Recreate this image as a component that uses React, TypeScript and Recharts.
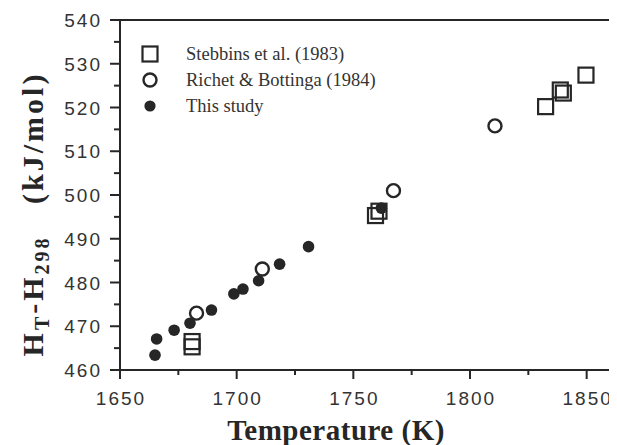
import { ReferenceArea, Scatter, ScatterChart, XAxis, YAxis } from "recharts";

// Stebbins et al. (1983)
const stebbinsT = [1680.9, 1680.9, 1759.5, 1761, 1832.4, 1838.7, 1840, 1849.7];
const stebbinsH = [465.3, 466.5, 495.3, 496.3, 520.2, 524, 523.3, 527.4];
// Richet & Bottinga (1984)
const richetT = [1682.8, 1711, 1767.2, 1810.7];
const richetH = [473.0, 483.1, 501, 515.8];
// This study
const studyT = [1665, 1665.7, 1673.2, 1680, 1689.2, 1698.8, 1702.7, 1709.4, 1718.4, 1730.8, 1762];
const studyH = [463.4, 467.1, 469.1, 470.7, 473.7, 477.4, 478.5, 480.4, 484.2, 488.2, 497.0];

const xTicks = [1650, 1675, 1700, 1725, 1750, 1775, 1800, 1825, 1850];
const xLabels = [1650, 1700, 1750, 1800, 1850];
const yTicks = [460, 465, 470, 475, 480, 485, 490, 495, 500, 505, 510, 515, 520, 525, 530, 535, 540];
const yLabels = [460, 470, 480, 490, 500, 510, 520, 530, 540];

const legendNames = ["Stebbins et al. (1983)", "Richet & Bottinga (1984)", "This study"];

const INK = "#262626";
const SERIF = "'Liberation Serif', 'Times New Roman', serif";
const SANS = "'Liberation Sans', Arial, sans-serif";

const zip = (xs: number[], ys: number[]) => xs.map((x, i) => ({ x, y: ys[i] }));
const stebbins = zip(stebbinsT, stebbinsH);
const richet = zip(richetT, richetH);
const study = zip(studyT, studyH);

const SquareMark = (p: any) => (
  <rect x={p.cx - 7.5} y={p.cy - 7.5} width={15} height={15} fill="none" stroke={INK} strokeWidth={2.2} />
);
const CircleMark = (p: any) => (
  <circle cx={p.cx} cy={p.cy} r={6.5} fill="#fff" stroke={INK} strokeWidth={2.4} />
);
const DotMark = (p: any) => <circle cx={p.cx} cy={p.cy} r={5.8} fill={INK} />;

const XTick = (props: any) => {
  const { x, y, payload } = props;
  const major = xLabels.includes(payload.value);
  return (
    <g>
      <line x1={x} x2={x} y1={y} y2={y + (major ? 9 : 5)} stroke={INK} strokeWidth={2} />
      {major && (
        <text x={x + 1} y={y + 35} textAnchor="middle" fontFamily={SANS} fontSize={19} letterSpacing={2} fill="#333">
          {payload.value}
        </text>
      )}
    </g>
  );
};

const YTick = (props: any) => {
  const { x, y, payload } = props;
  const major = yLabels.includes(payload.value);
  return (
    <g>
      <line x1={x} x2={x - (major ? 10 : 6)} y1={y} y2={y} stroke={INK} strokeWidth={2} />
      {major && (
        <text x={x - 18} y={y + 7} textAnchor="end" fontFamily={SANS} fontSize={19} letterSpacing={2} fill="#333">
          {payload.value}
        </text>
      )}
    </g>
  );
};

const YTitle = () => (
  <text
    transform="translate(35,206) rotate(-90)"
    textAnchor="middle"
    fontFamily={SERIF}
    fontWeight="bold"
    fontSize={30}
    letterSpacing={3}
    fill={INK}
  >
    H
    <tspan fontSize={20} dy={6}>T</tspan>
    <tspan dy={-6}>-H</tspan>
    <tspan fontSize={20} dy={6}>298</tspan>
    <tspan dy={-6}>{"\u00a0\u00a0\u00a0(kJ/mol)"}</tspan>
  </text>
);

const XTitle = () => (
  <text x={328} y={432} textAnchor="middle" fontFamily={SERIF} fontWeight="bold" fontSize={29} letterSpacing={0.5} fill={INK}>
    Temperature (K)
  </text>
);

const legendIcons = [
  <svg width={18} height={18}><rect x={1.5} y={1.5} width={15} height={15} fill="none" stroke={INK} strokeWidth={2.2} /></svg>,
  <svg width={18} height={18}><circle cx={9} cy={9} r={6.5} fill="#fff" stroke={INK} strokeWidth={2.4} /></svg>,
  <svg width={18} height={18}><circle cx={9} cy={9} r={5.6} fill={INK} /></svg>,
];

const App = () => {
  return (
    <div style={{ position: "relative", width: 609, height: 437 }}>
      <ScatterChart width={609} height={437} margin={{ top: 12, right: 7, left: 0, bottom: 0 }}>
        <XAxis
          type="number"
          dataKey="x"
          domain={[1650, 1860]}
          ticks={xTicks}
          interval={0}
          height={75}
          axisLine={false}
          tickLine={false}
          tickSize={0}
          tickMargin={0}
          tick={<XTick />}
          label={{ content: () => <XTitle /> }}
        />
        <YAxis
          type="number"
          dataKey="y"
          domain={[460, 540]}
          ticks={yTicks}
          interval={0}
          width={112}
          axisLine={false}
          tickLine={false}
          tickSize={0}
          tickMargin={0}
          tick={<YTick />}
          label={{ content: () => <YTitle /> }}
        />
        <ReferenceArea x1={1650} x2={1860} y1={460} y2={540} fill="none" stroke={INK} strokeWidth={2} ifOverflow="visible" />
        <Scatter data={study} shape={DotMark} isAnimationActive={false} />
        <Scatter data={richet} shape={CircleMark} isAnimationActive={false} />
        <Scatter data={stebbins} shape={SquareMark} isAnimationActive={false} />
      </ScatterChart>
      <div style={{ position: "absolute", left: 133, top: 33 }}>
        {legendNames.map((name, i) => (
          <div key={name} style={{ display: "flex", alignItems: "center", height: 26, fontFamily: SERIF, fontSize: 18.5, color: "#333" }}>
            <div style={{ width: 18, height: 18, marginRight: 27 }}>{legendIcons[i]}</div>
            {name}
          </div>
        ))}
      </div>
    </div>
  );
};

export default App;
